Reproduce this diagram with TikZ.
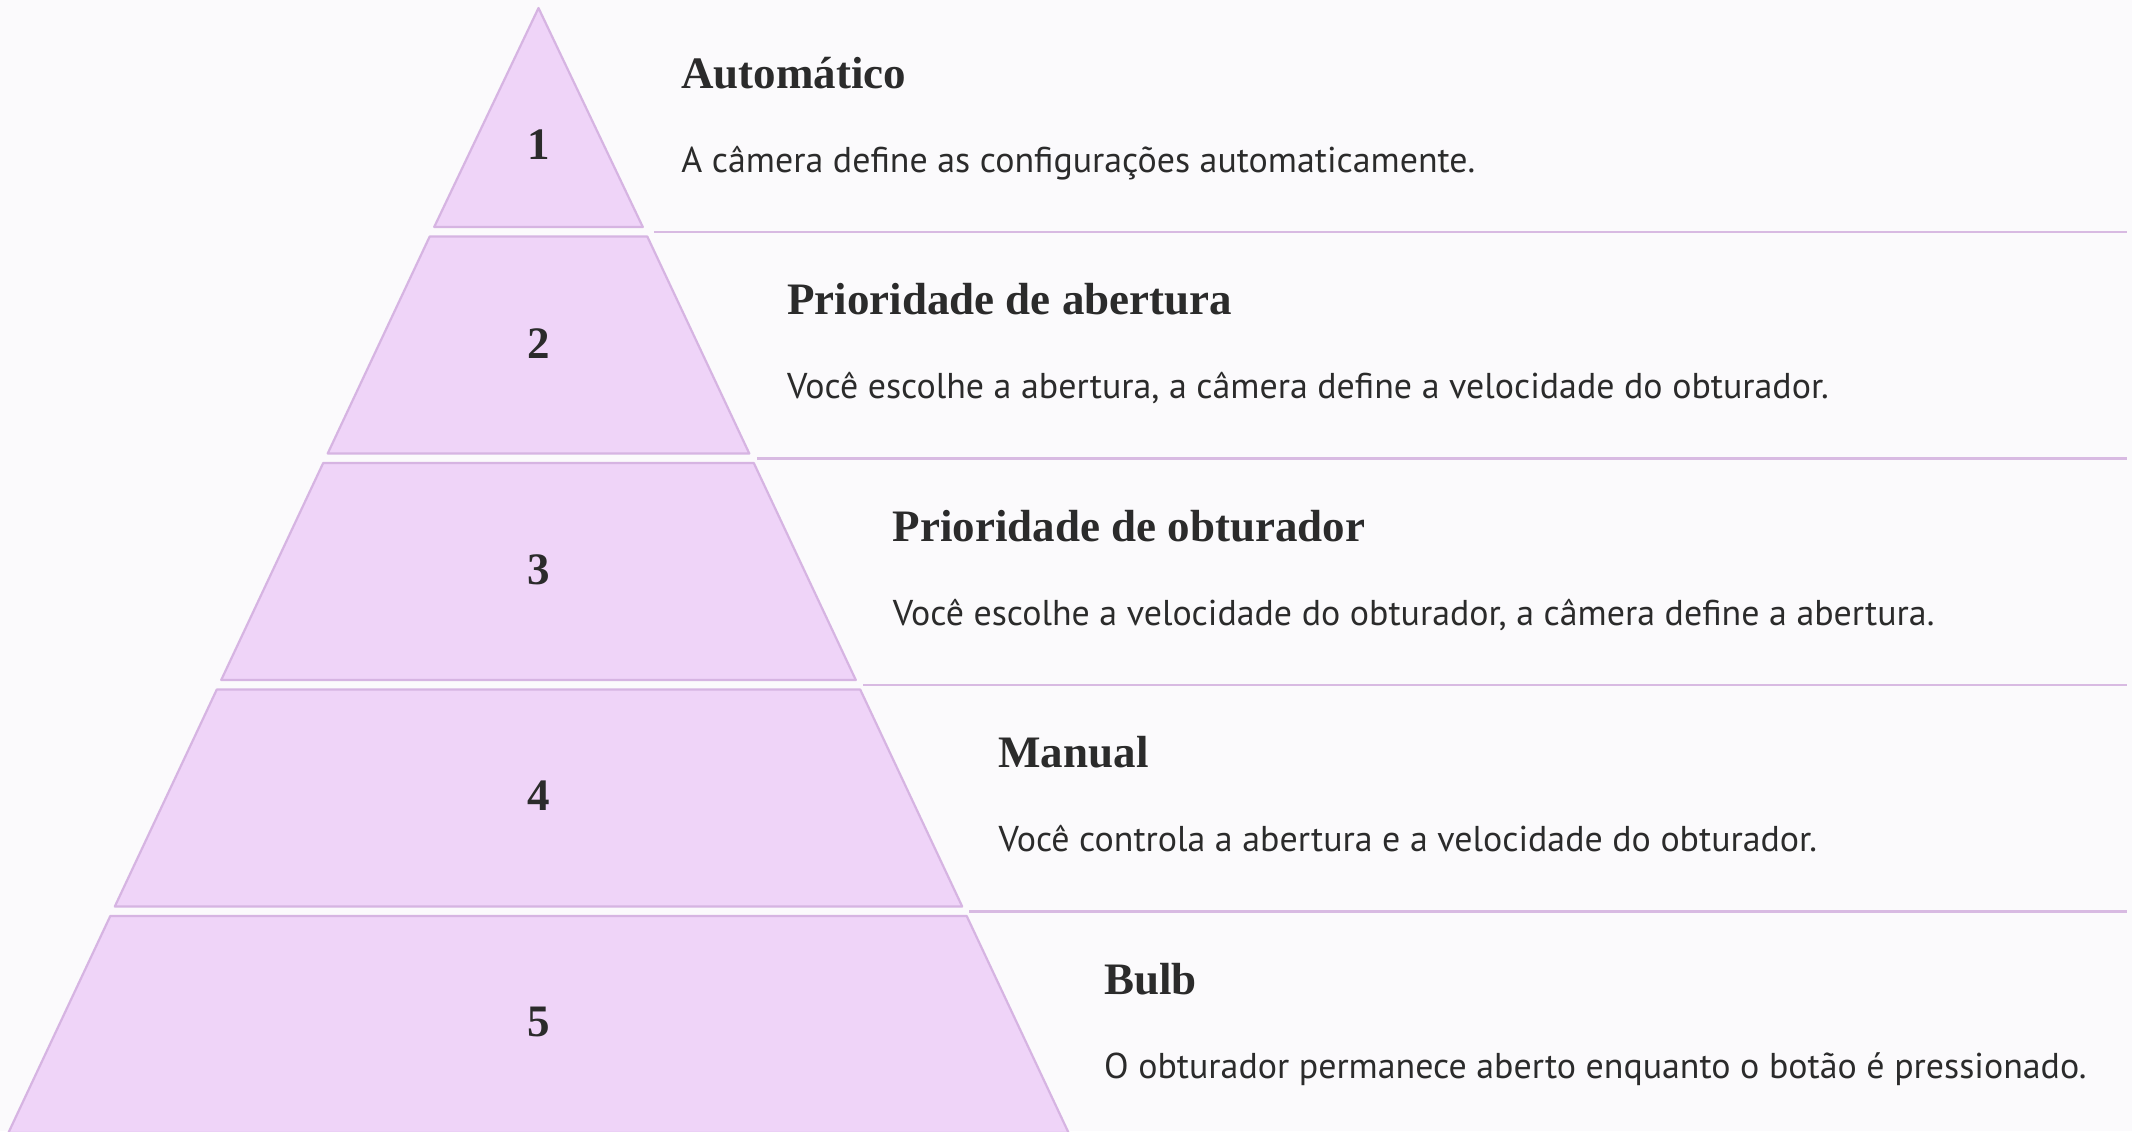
\documentclass[tikz,border=0pt]{standalone}
\usepackage{fontspec}
\usepackage{tikz}
\usepackage{xcolor}
\setmainfont{Liberation Serif}
\newfontfamily\descfont{PT Sans}
\usetikzlibrary{positioning}

\definecolor{tierfill}{RGB}{239,212,248}
\definecolor{tierline}{RGB}{214,180,226}
\definecolor{sepline}{RGB}{216,186,226}
\definecolor{bgcol}{RGB}{251,250,252}
\definecolor{ink}{RGB}{43,43,43}

\begin{document}
\begin{tikzpicture}[x=0.5pt, y=-0.5pt,
  tier/.style={fill=tierfill, draw=tierline, line width=1.1pt, line join=round},
  sep/.style={draw=sepline, line width=1.4pt},
  num/.style={inner sep=0pt, text=ink, font=\fontsize{22.5}{26}\selectfont\bfseries},
  title/.style={anchor=base west, inner sep=0pt, text=ink, font=\fontsize{22.5}{26}\selectfont\bfseries},
  desc/.style={anchor=base west, inner sep=0pt, text=ink, font=\descfont\fontsize{17.95}{22}\selectfont}]
% Background and frame
\useasboundingbox (0,0) rectangle (2132,1131);
\fill[bgcol] (0,0) rectangle (2132,1131);

% Pyramid tiers
\path[tier] (538.5,8) -- (642.8,227) -- (434.2,227) -- cycle;
\path[tier] (429.7,236.5) -- (647.3,236.5) -- (749.3,453.5) -- (327.7,453.5) -- cycle;
\path[tier] (323.2,463) -- (753.8,463) -- (855.8,680) -- (221.2,680) -- cycle;
\path[tier] (216.8,689.5) -- (860.2,689.5) -- (962.2,906.5) -- (114.8,906.5) -- cycle;
\path[tier] (110.3,916) -- (966.7,916) -- (1068.7,1133) -- (8.3,1133) -- cycle;

% Tier numbers
\node[num] (n1) at (538.5,145) {1};
\node[num] (n2) at (538.5,344) {2};
\node[num] (n3) at (538.5,570) {3};
\node[num] (n4) at (538.5,796) {4};
\node[num] (n5) at (538.5,1022) {5};

% Separators
\draw[sep] (654,232) -- (2127,232);
\draw[sep] (757,458.5) -- (2127,458.5);
\draw[sep] (863,685) -- (2127,685);
\draw[sep] (969,911.5) -- (2127,911.5);

% Mode titles and descriptions
\node[title] (t1) at (681,88) {Automático};
\node[desc] (d1) at (681,172) {A câmera define as configurações automaticamente.};

\node[title] (t2) at (786.7,314.5) {Prioridade de abertura};
\node[desc] (d2) at (786.7,398.5) {Você escolhe a abertura, a câmera define a velocidade do obturador.};

\node[title] (t3) at (892.4,541) {Prioridade de obturador};
\node[desc] (d3) at (892.4,625) {Você escolhe a velocidade do obturador, a câmera define a abertura.};

\node[title] (t4) at (998.1,767.5) {Manual};
\node[desc] (d4) at (998.1,851.5) {Você controla a abertura e a velocidade do obturador.};

\node[title] (t5) at (1103.8,994) {Bulb};
\node[desc] (d5) at (1103.8,1078) {O obturador permanece aberto enquanto o botão é pressionado.};
\end{tikzpicture}
\end{document}
